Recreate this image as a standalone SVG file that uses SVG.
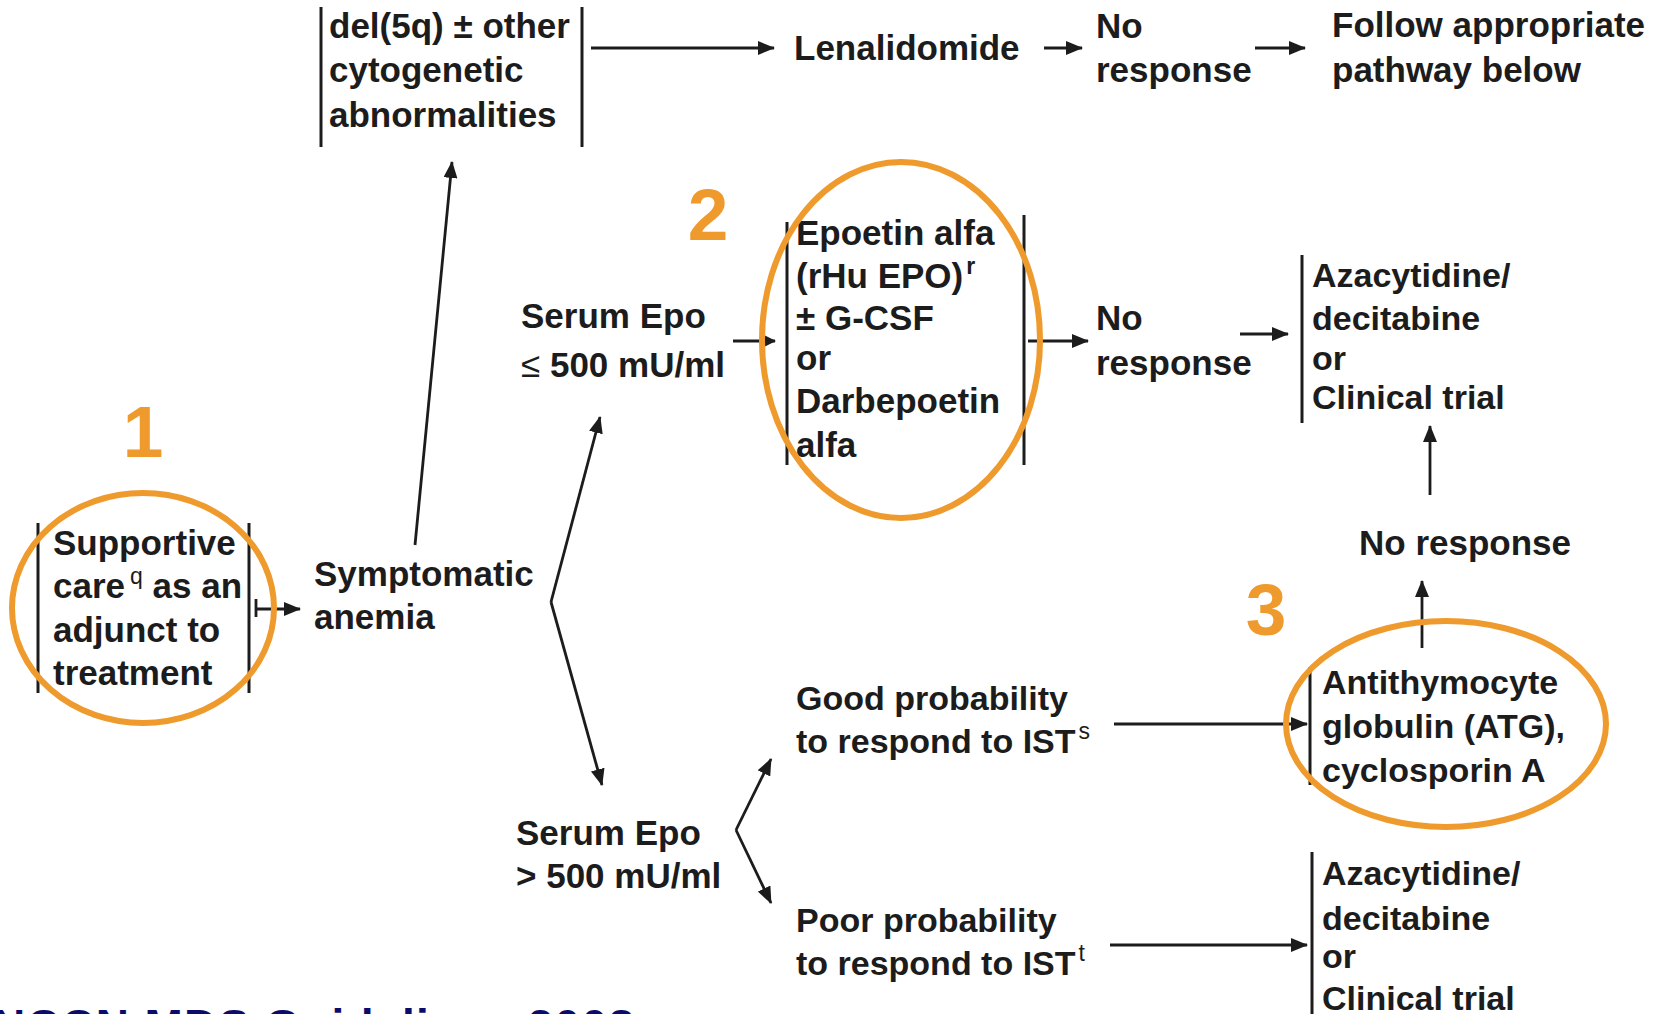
<svg xmlns="http://www.w3.org/2000/svg" width="1671" height="1014" viewBox="0 0 1671 1014">
<style>
.t{font-family:"Liberation Sans",Arial,Helvetica,sans-serif;font-weight:bold;font-size:35px;fill:#1c1c1c}
.s{font-size:34px}
.sup{font-size:23px}
.num{font-family:"Liberation Sans",Arial,sans-serif;font-weight:bold;font-size:73px;fill:#EF9A2C;text-anchor:middle}
.bar{stroke:#1c1c1c;stroke-width:3;fill:none}
.c{stroke:#1c1c1c;stroke-width:2.8;fill:none}
.ring{stroke:#EF9A2C;stroke-width:6;fill:none}
.foot{font-family:"Liberation Sans",Arial,sans-serif;font-weight:bold;font-size:46px;fill:#0b0b6b}
</style>
<defs>
<marker id="ah" markerUnits="userSpaceOnUse" markerWidth="17" markerHeight="14" refX="16" refY="7" orient="auto">
<path d="M0,0 L17,7 L0,14 z" fill="#1c1c1c"/>
</marker>
<marker id="ahs" markerUnits="userSpaceOnUse" markerWidth="12" markerHeight="12" refX="11" refY="6" orient="auto">
<path d="M0,0 L12,6 L0,12 z" fill="#1c1c1c"/>
</marker>
</defs>
<rect x="0" y="0" width="1671" height="1014" fill="#ffffff"/>

<g id="connectors">
<line class="c" x1="591" y1="48" x2="774" y2="48" marker-end="url(#ah)"/>
<line class="c" x1="1044" y1="48" x2="1082" y2="48" marker-end="url(#ah)"/>
<line class="c" x1="1255" y1="48" x2="1305" y2="48" marker-end="url(#ah)"/>
<line class="c" x1="256" y1="599" x2="256" y2="617"/>
<line class="c" x1="256" y1="609" x2="300" y2="609" marker-end="url(#ah)"/>
<line class="c" x1="415" y1="545" x2="452" y2="162" marker-end="url(#ah)"/>
<line class="c" x1="551" y1="602" x2="600" y2="417" marker-end="url(#ah)"/>
<line class="c" x1="551" y1="602" x2="602" y2="785" marker-end="url(#ah)"/>
<line class="c" x1="733" y1="341" x2="775" y2="341" marker-end="url(#ahs)"/>
<line class="c" x1="1028" y1="341" x2="1088" y2="341" marker-end="url(#ah)"/>
<line class="c" x1="1240" y1="334" x2="1288" y2="334" marker-end="url(#ah)"/>
<line class="c" x1="1430" y1="495" x2="1430" y2="426" marker-end="url(#ah)"/>
<line class="c" x1="1422" y1="648" x2="1422" y2="581" marker-end="url(#ah)"/>
<line class="c" x1="736" y1="830" x2="771" y2="759" marker-end="url(#ah)"/>
<line class="c" x1="736" y1="830" x2="771" y2="903" marker-end="url(#ah)"/>
<line class="c" x1="1114" y1="724" x2="1307" y2="724" marker-end="url(#ah)"/>
<line class="c" x1="1110" y1="945" x2="1307" y2="945" marker-end="url(#ah)"/>
</g>

<g id="node-del5q">
<line class="bar" x1="321" y1="7" x2="321" y2="147"/>
<line class="bar" x1="582" y1="7" x2="582" y2="147"/>
<text class="t" x="329" y="38">del(5q) ± other</text>
<text class="t" x="329" y="82">cytogenetic</text>
<text class="t" x="329" y="127">abnormalities</text>
</g>

<g id="node-lenalidomide">
<text class="t" x="794" y="60">Lenalidomide</text>
</g>

<g id="node-noresponse-top">
<text class="t" x="1096" y="38">No</text>
<text class="t" x="1096" y="82">response</text>
</g>

<g id="node-follow">
<text class="t" x="1332" y="37">Follow appropriate</text>
<text class="t" x="1332" y="82">pathway below</text>
</g>

<g id="node-supportive">
<line class="bar" x1="38" y1="523" x2="38" y2="693"/>
<line class="bar" x1="249" y1="523" x2="249" y2="693"/>
<text class="t" x="53" y="555">Supportive</text>
<text class="t" x="53" y="598">care<tspan class="sup" font-weight="normal" dx="5" dy="-14">q</tspan><tspan dy="14"> as an</tspan></text>
<text class="t" x="53" y="642">adjunct to</text>
<text class="t" x="53" y="685">treatment</text>
</g>

<g id="node-symptomatic">
<text class="t" x="314" y="586">Symptomatic</text>
<text class="t" x="314" y="629">anemia</text>
</g>

<g id="node-epo-low">
<text class="t" x="521" y="328">Serum Epo</text>
<text class="t" x="521" y="377"><tspan font-weight="normal">≤</tspan> 500 mU/ml</text>
</g>

<g id="node-epoetin">
<line class="bar" x1="787" y1="222" x2="787" y2="465"/>
<line class="bar" x1="1024" y1="215" x2="1024" y2="465"/>
<text class="t" x="796" y="245">Epoetin alfa</text>
<text class="t" x="796" y="288">(rHu EPO)<tspan class="sup" dx="3" dy="-14">r</tspan></text>
<text class="t" x="796" y="330">± G-CSF</text>
<text class="t" x="796" y="370">or</text>
<text class="t" x="796" y="413">Darbepoetin</text>
<text class="t" x="796" y="457">alfa</text>
</g>

<g id="node-noresponse-mid">
<text class="t" x="1096" y="330">No</text>
<text class="t" x="1096" y="375">response</text>
</g>

<g id="node-aza-top">
<line class="bar" x1="1302" y1="255" x2="1302" y2="423"/>
<text class="t s" x="1312" y="287">Azacytidine/</text>
<text class="t s" x="1312" y="330">decitabine</text>
<text class="t s" x="1312" y="370">or</text>
<text class="t s" x="1312" y="409">Clinical trial</text>
</g>

<g id="node-noresponse-right">
<text class="t" x="1359" y="555">No response</text>
</g>

<g id="node-epo-high">
<text class="t" x="516" y="845">Serum Epo</text>
<text class="t" x="516" y="888">&gt; 500 mU/ml</text>
</g>

<g id="node-good">
<text class="t s" x="796" y="710">Good probability</text>
<text class="t s" x="796" y="753">to respond to IST<tspan class="sup" font-weight="normal" dx="3" dy="-14">s</tspan></text>
</g>

<g id="node-poor">
<text class="t s" x="796" y="932">Poor probability</text>
<text class="t s" x="796" y="975">to respond to IST<tspan class="sup" font-weight="normal" dx="3" dy="-14">t</tspan></text>
</g>

<g id="node-atg">
<line class="bar" x1="1310" y1="667" x2="1310" y2="785"/>
<text class="t s" x="1322" y="694">Antithymocyte</text>
<text class="t s" x="1322" y="738">globulin (ATG),</text>
<text class="t s" x="1322" y="782">cyclosporin A</text>
</g>

<g id="node-aza-bottom">
<line class="bar" x1="1312" y1="852" x2="1312" y2="1014"/>
<text class="t s" x="1322" y="885">Azacytidine/</text>
<text class="t s" x="1322" y="930">decitabine</text>
<text class="t s" x="1322" y="968">or</text>
<text class="t s" x="1322" y="1010">Clinical trial</text>
</g>

<g id="highlights">
<ellipse class="ring" cx="143" cy="608" rx="131" ry="115"/>
<ellipse class="ring" cx="901" cy="340" rx="139" ry="178"/>
<ellipse class="ring" cx="1446" cy="724" rx="160" ry="103"/>
<text class="num" x="143" y="457">1</text>
<text class="num" x="708" y="240">2</text>
<text class="num" x="1266" y="635">3</text>
</g>

<g id="footer">
<text class="foot" x="-8" y="1042" textLength="642" lengthAdjust="spacing">NCCN MDS Guidelines 2008</text>
</g>
</svg>
